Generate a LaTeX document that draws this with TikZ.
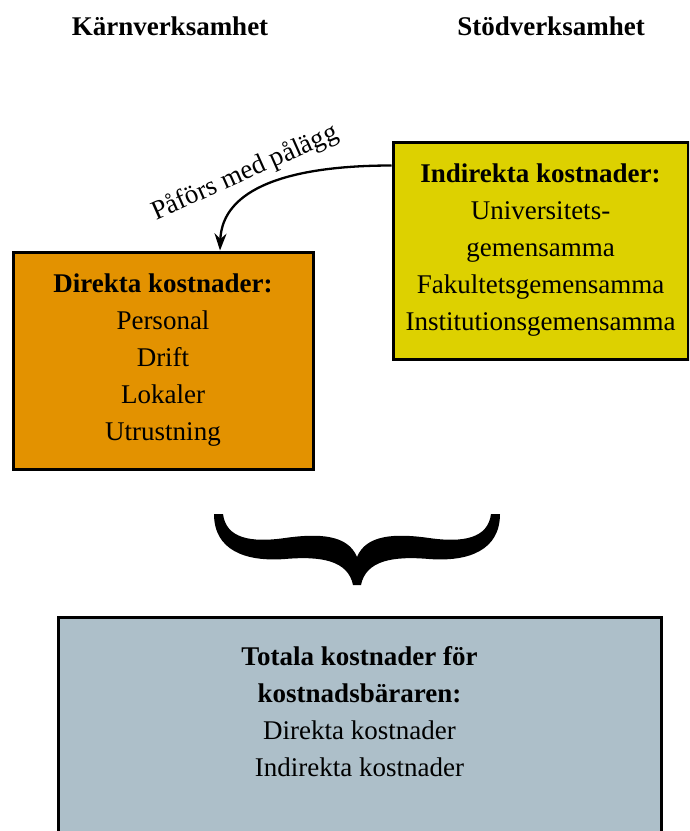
\documentclass[tikz,border=0pt]{standalone}
\usepackage{fontspec}
\setmainfont{Liberation Serif}
\usetikzlibrary{arrows.meta}
\definecolor{boxorange}{RGB}{227,146,0}
\definecolor{boxyellow}{RGB}{221,209,0}
\definecolor{boxgray}{RGB}{173,191,201}
\begin{document}
\begin{tikzpicture}[x=1pt,y=-1pt,
  box/.style={draw=black, line width=3pt, align=center, inner sep=0pt, font=\fontsize{27}{37}\selectfont},
  boxtext/.style={align=center, inner sep=0pt, font=\fontsize{27}{37}\selectfont},
  title/.style={font=\fontsize{27}{31}\selectfont\bfseries},
  conn/.style={line width=2.3pt, -{Stealth[length=17pt,width=12pt]}},
  ]
\useasboundingbox (0,0) rectangle (689,831);
\clip (0,0) rectangle (689,831);
\node[title] (karn) at (170,26) {Kärnverksamhet};
\node[title] (stod) at (551,26) {Stödverksamhet};
\node[box, fill=boxorange, minimum width=300pt, minimum height=217pt] (direkt) at (163,360.5)
  {\textbf{Direkta kostnader:}\\Personal\\Drift\\Lokaler\\Utrustning};
\node[box, fill=boxyellow, minimum width=295pt, minimum height=217pt] (indir) at (540.5,250.5)
  {\textbf{Indirekta kostnader:}\\Universitets-\\gemensamma\\Fakultetsgemensamma\\Institutionsgemensamma};
\node[box, fill=boxgray, minimum width=603pt, minimum height=243pt] (total) at (359.5,738.5) {};
\node[boxtext] (totaltext) at (359.5,712)
  {\textbf{Totala kostnader för}\\\textbf{kostnadsbäraren:}\\Direkta kostnader\\Indirekta kostnader};
\draw[conn] ([yshift=-25pt]indir.north west) .. controls +(-103,0) and +(2,-62) .. ([xshift=57pt]direkt.north);
\node[rotate=24, font=\fontsize{27}{31}\selectfont] (lbl) at (245,173) {Påförs med pålägg};
\fill[black] (357,557) .. controls (348,535) and (320,533) .. (285,538)
  .. controls (250,543) and (226,538) .. (223,514) -- (214,514)
  .. controls (214,550) and (245,562) .. (285,559)
  .. controls (320,556) and (348,560) .. (353,585) -- (361,585)
  .. controls (366,560) and (394,556) .. (429,559)
  .. controls (469,562) and (500,550) .. (500,514) -- (491,514)
  .. controls (488,538) and (464,543) .. (429,538)
  .. controls (394,533) and (366,535) .. (357,557) -- cycle;
\end{tikzpicture}
\end{document}
